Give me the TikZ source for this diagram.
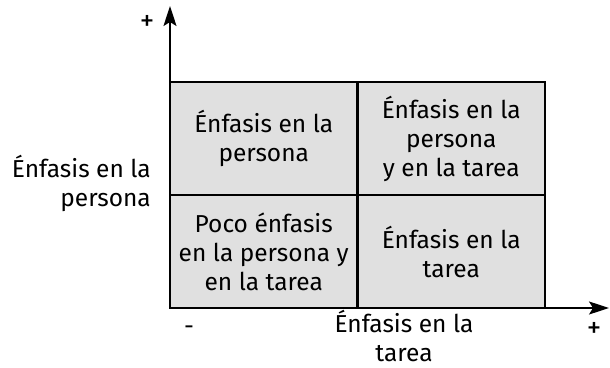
\documentclass[tikz,border=0pt]{standalone}
\usepackage{fontspec}
\setmainfont{Fira Sans}[Scale=1]
\usetikzlibrary{arrows.meta}
\begin{document}
\begin{tikzpicture}[x=1pt,y=1pt,
  cell/.style={draw=black,line width=2.2pt,fill=cellgray,minimum width=187.5pt,minimum height=113pt,inner sep=0pt,align=center,font=\fontsize{24.5}{29}\selectfont},
  lbl/.style={inner sep=0pt,align=center,font=\fontsize{24.5}{29}\selectfont},
  sign/.style={inner sep=0pt,font=\fontsize{29}{29}\selectfont},
  axis/.style={line width=1.5pt,-{Stealth[length=20pt,width=13pt,inset=4pt]}}]
\definecolor{cellgray}{HTML}{E0E0E0}
\useasboundingbox (0,0) rectangle (610,367);
\coordinate (o) at (170,59);
\coordinate (ytip) at (170,361);
\coordinate (xtip) at (609,59);
\draw[axis] (o) -- (ytip);
\draw[axis] (o) -- (xtip);
\node[cell] (tl) at (263.75,228.5) {Énfasis en la\\persona};
\node[cell] (tr) at (451.25,228.5) {Énfasis en la\\persona\\y en la tarea};
\node[cell] (bl) at (263.75,115.5) {Poco énfasis\\en la persona y\\en la tarea};
\node[cell] (br) at (451.25,115.5) {Énfasis en la\\tarea};
\node[sign] (yplus) at (147,344) {+};
\node[lbl] (xminus) at (189,37) {-};
\node[sign] (xplus) at (594,37) {+};
\node[lbl] (xlab) at (404,31) {Énfasis en la\\tarea};
\node[lbl,align=right,anchor=east] (ylab) at (151,184) {Énfasis en la\\persona};
\end{tikzpicture}
\end{document}
